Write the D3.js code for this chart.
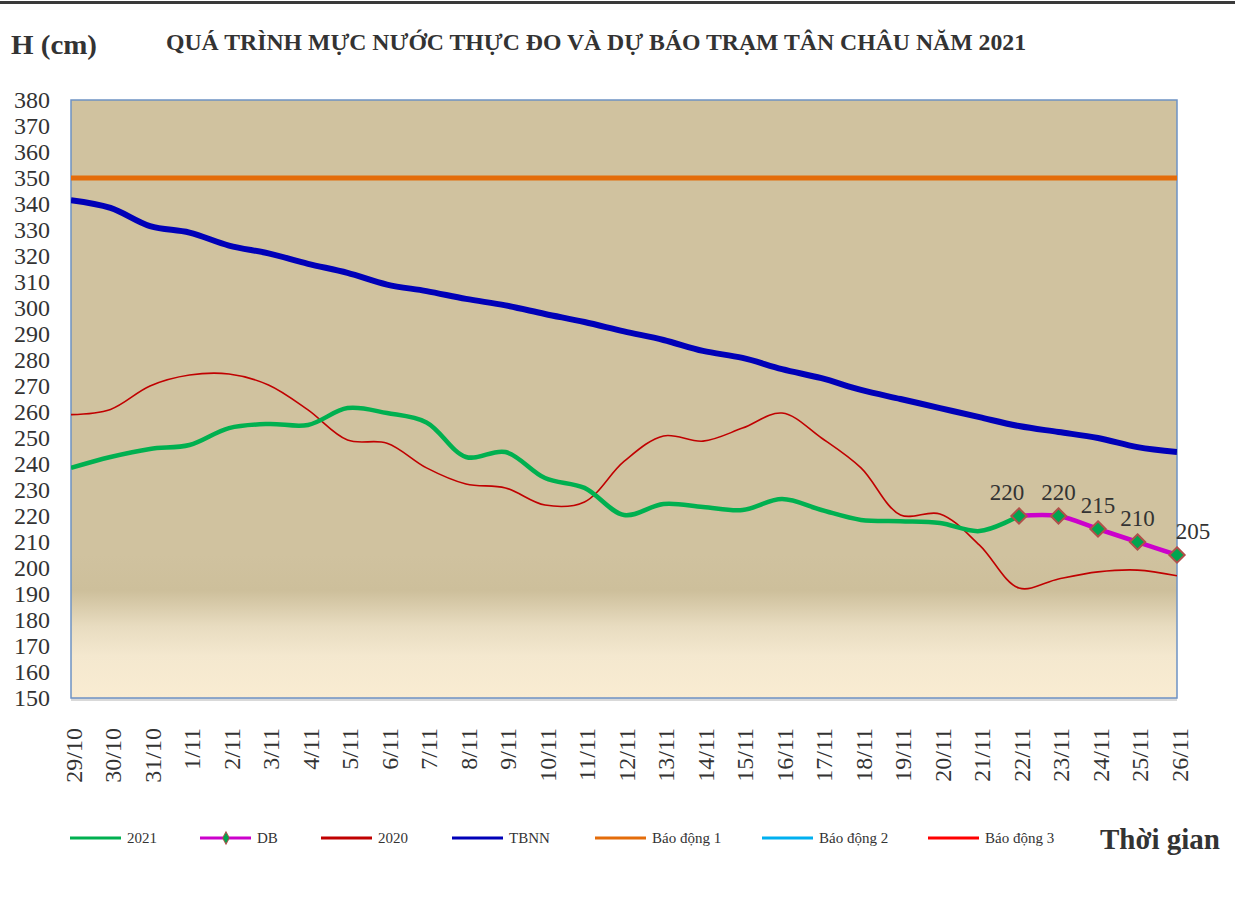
<!DOCTYPE html>
<html>
<head>
<meta charset="utf-8">
<script src="https://cdn.jsdelivr.net/npm/d3@7"></script>
<style>
  body { margin: 0; background: #fff; }
  svg, svg text { font-family: "Liberation Serif", "Times New Roman", serif; }
</style>
</head>
<body>
<div id="chart"></div>
<script>
// ngày quan trắc
const days = ["29/10","30/10","31/10","1/11","2/11","3/11","4/11","5/11","6/11","7/11","8/11","9/11","10/11",
  "11/11","12/11","13/11","14/11","15/11","16/11","17/11","18/11","19/11","20/11","21/11","22/11","23/11",
  "24/11","25/11","26/11"];

// mực nước 2021 thực đo (đến 22/11)
const h2021 = [238.5,242.7,245.8,247.3,253.8,255.4,255,261.5,259.6,256,242.7,244.6,234.6,230.8,220.4,224.6,
  223.5,222.3,226.5,222.3,218.5,218,217.3,214.2,220];
// dự báo
const dbDays = ["22/11","23/11","24/11","25/11","26/11"];
const hDB = [220,220,215,210,205];
// năm 2020
const h2020 = [259,261,270,274.2,274.6,270.4,260.8,249.2,248,238.5,232.3,230.8,224.2,225.4,241,250.8,248.8,
  253.8,259.6,250,238.5,220.4,220.8,208.8,192.3,195.8,198.5,199.2,197];
// trung bình nhiều năm
const hTBNN = [341.5,338.5,331.5,329,324,321,317,313.5,309,306.5,303.5,301,297.7,294.6,291,287.7,283.5,
  280.8,276.5,273,268.5,265,261.5,258,254.6,252.3,250,246.5,244.6];
// báo động
const bd1 = 350, bd2 = 400, bd3 = 450;

const yTicks = d3.range(150, 381, 10);

const W = 1235, H = 897;
const margin = {top: 100, right: 58, bottom: 199, left: 71};
const iw = W - margin.left - margin.right;
const ih = H - margin.top - margin.bottom;

const svg = d3.select("#chart").append("svg")
  .attr("width", W).attr("height", H);

// đường kẻ đầu trang
svg.append("rect").attr("x", 0).attr("y", 1).attr("width", W).attr("height", 3).attr("fill", "#3a3a3a");

const defs = svg.append("defs");
const grad = defs.append("linearGradient").attr("id", "bg").attr("x1", 0).attr("y1", 0).attr("x2", 0).attr("y2", 1);
[[0, "#d0c29f"], [0.76, "#d0c29f"], [0.82, "#cdbf9b"], [0.88, "#e8dcc0"], [0.93, "#f4e8cf"], [1, "#f9ecd2"]]
  .forEach(s => grad.append("stop").attr("offset", s[0]).attr("stop-color", s[1]));
defs.append("clipPath").attr("id", "clip").append("rect").attr("width", iw).attr("height", ih);

const x = d3.scalePoint().domain(days).range([0, iw]);
const y = d3.scaleLinear().domain([150, 380]).range([ih, 0]);

const g = svg.append("g").attr("transform", `translate(${margin.left},${margin.top})`);

g.append("rect").attr("width", iw).attr("height", ih).attr("fill", "url(#bg)");
g.append("line").attr("x1", 0).attr("x2", iw).attr("y1", ih + 1.5).attr("y2", ih + 1.5)
  .attr("stroke", "#d9d9d9").attr("stroke-width", 3);
g.append("rect").attr("width", iw).attr("height", ih).attr("fill", "none")
  .attr("stroke", "#6e92c4").attr("stroke-width", 1.5);

// trục tung
g.append("g").call(d3.axisLeft(y).tickValues(yTicks).tickSize(0).tickPadding(21))
  .attr("font-family", null).attr("font-size", null)
  .call(a => a.select(".domain").remove())
  .selectAll("text").attr("font-size", 24).attr("fill", "#333");

// trục hoành
g.append("g").attr("transform", `translate(0,${ih})`)
  .call(d3.axisBottom(x).tickSize(0))
  .attr("font-family", null).attr("font-size", null)
  .call(a => a.select(".domain").remove())
  .selectAll("text")
  .attr("font-size", 24).attr("fill", "#333")
  .attr("text-anchor", "end")
  .attr("transform", "rotate(-90)")
  .attr("x", -30).attr("y", 0).attr("dy", "0.43em");

const plot = g.append("g").attr("clip-path", "url(#clip)");
const curve = d3.curveCatmullRom.alpha(0.5);
const lineOf = (xs, vals) => d3.line().curve(curve).x((d, i) => x(xs[i])).y(d => y(d))(vals);

// báo động
[[bd1, "#e46c0a"], [bd2, "#00b0f0"], [bd3, "#ff0000"]].forEach(b => {
  plot.append("line").attr("x1", 0).attr("x2", iw).attr("y1", y(b[0])).attr("y2", y(b[0]))
    .attr("stroke", b[1]).attr("stroke-width", 5);
});

plot.append("path").attr("d", lineOf(days, hTBNN)).attr("fill", "none")
  .attr("stroke", "#0000b8").attr("stroke-width", 6);
plot.append("path").attr("d", lineOf(days, h2020)).attr("fill", "none")
  .attr("stroke", "#c00000").attr("stroke-width", 1.6);
plot.append("path").attr("d", lineOf(days, h2021)).attr("fill", "none")
  .attr("stroke", "#00b050").attr("stroke-width", 4.5);
g.append("path").attr("d", lineOf(dbDays, hDB)).attr("fill", "none")
  .attr("stroke", "#cc00cc").attr("stroke-width", 4.5);

const diamond = d3.symbol().type(d3.symbolDiamond2).size(150);
g.selectAll(".mk").data(hDB).enter().append("path")
  .attr("d", diamond)
  .attr("transform", (d, i) => `translate(${x(dbDays[i])},${y(d)})`)
  .attr("fill", "#00a550").attr("stroke", "#b0504a").attr("stroke-width", 2);

g.selectAll(".lbl").data(hDB).enter().append("text")
  .attr("x", (d, i) => x(dbDays[i]) + (i === 0 ? -12 : i === hDB.length - 1 ? 16 : 0))
  .attr("y", (d, i) => y(d) - 16)
  .attr("text-anchor", "middle").attr("font-size", 23).attr("fill", "#333")
  .text(d => d);

// tiêu đề
svg.append("text").attr("x", 11).attr("y", 54).attr("font-size", 27).attr("font-weight", "bold")
  .attr("fill", "#333").attr("textLength", 86).attr("lengthAdjust", "spacingAndGlyphs").text("H (cm)");
svg.append("text").attr("x", 166).attr("y", 50).attr("font-size", 23).attr("font-weight", "bold")
  .attr("fill", "#333").attr("textLength", 860).attr("lengthAdjust", "spacingAndGlyphs")
  .text("QUÁ TRÌNH MỰC NƯỚC THỰC ĐO VÀ DỰ BÁO TRẠM TÂN CHÂU NĂM 2021");
svg.append("text").attr("x", 1100).attr("y", 849).attr("font-size", 29).attr("font-weight", "bold")
  .attr("fill", "#333").attr("textLength", 120).attr("lengthAdjust", "spacingAndGlyphs").text("Thời gian");

// chú giải
const legend = [
  {name: "2021", color: "#00b050", x: 70},
  {name: "DB", color: "#cc00cc", x: 200, marker: true},
  {name: "2020", color: "#c00000", x: 321},
  {name: "TBNN", color: "#0000b8", x: 452},
  {name: "Báo động 1", color: "#e46c0a", x: 595},
  {name: "Báo động 2", color: "#00b0f0", x: 762},
  {name: "Báo động 3", color: "#ff0000", x: 928}
];
const lg = svg.append("g").attr("transform", "translate(0,838)");
legend.forEach(l => {
  lg.append("line").attr("x1", l.x).attr("x2", l.x + 51).attr("y1", 0).attr("y2", 0)
    .attr("stroke", l.color).attr("stroke-width", 3);
  if (l.marker) {
    lg.append("path").attr("d", d3.symbol().type(d3.symbolDiamond2).size(60))
      .attr("transform", `translate(${l.x + 26},0) scale(0.7,1.3)`)
      .attr("fill", "#00a550").attr("stroke", "#b0504a").attr("stroke-width", 1);
  }
  lg.append("text").attr("x", l.x + 57).attr("y", 5).attr("font-size", 15).attr("fill", "#333").text(l.name);
});
</script>
</body>
</html>
